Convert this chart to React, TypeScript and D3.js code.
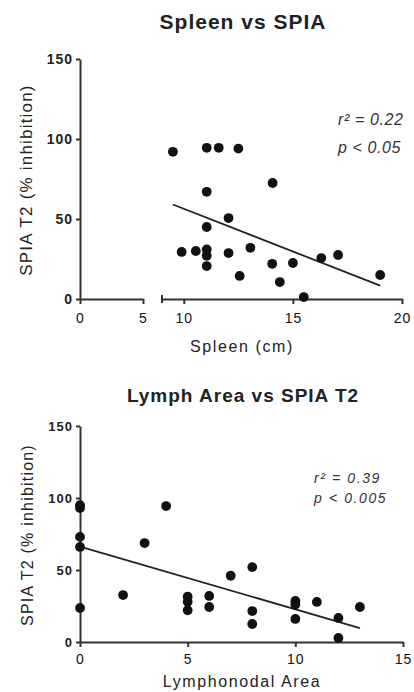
import * as d3 from "d3";
import { useEffect, useRef } from "react";

// Spleen vs SPIA (top panel)
const spleenCm = [
	9.5, 11.05, 11.6, 12.5, 14.07, 11.05, 12.05, 11.05, 9.9, 10.55, 11.05, 11.05,
	11.05, 12.05, 13.05, 12.56, 14.05, 15.0, 14.4, 15.5, 16.3, 17.07, 19.0,
];
const spleenSpia = [
	92, 94.5, 94.5, 94, 72.5, 67, 50.6, 45, 29.4, 30, 31, 27, 20.6, 28.7, 32, 14.4,
	22, 22.5, 10.6, 1.2, 25.6, 27.5, 15,
];
const spleenStats = ["r² = 0.22", "p < 0.05"];

// Lymph area vs SPIA T2 (bottom panel)
const lymphArea = [
	0, 0, 0, 0, 0, 4, 3, 7, 8, 2, 5, 5, 5, 6, 6, 8, 8, 10, 10, 10, 11, 12, 12, 13,
];
const lymphSpia = [
	95, 93, 73, 66, 23.6, 94.4, 68.7, 46, 52, 32.6, 31.5, 28, 22, 32, 24.3, 21.5,
	12.5, 28.5, 26, 16, 27.8, 16.7, 2.8, 24.3,
];
const lymphStats = ["r² = 0.39", "p < 0.005"];

const yTicks = [0, 50, 100, 150];

function fit(xs: number[], ys: number[]) {
	const mx = d3.mean(xs) ?? 0;
	const my = d3.mean(ys) ?? 0;
	let sxy = 0;
	let sxx = 0;
	xs.forEach((x, i) => {
		sxy += (x - mx) * (ys[i] - my);
		sxx += (x - mx) * (x - mx);
	});
	const slope = sxy / sxx;
	return { slope, intercept: my - slope * mx };
}

const FONT = "'Liberation Sans', Arial, sans-serif";

interface PanelOpts {
	top: number;
	bottom: number;
	title: string;
	titleY: number;
	titleSize: number;
	xLabel: string;
	xLabelY: number;
	yLabelX: number;
	yLabelSize: number;
	tickSize: number;
	xPad: number;
	xs: number[];
	ys: number[];
	stats: string[];
	statsX: number;
	statsY: number;
	statsGap: number;
	statsSize: number;
	statsSpacing: number;
	xSegments: { domain: [number, number]; range: [number, number]; ticks: number[]; cap?: boolean }[];
}

export default function App() {
	const ref = useRef<SVGSVGElement | null>(null);

	useEffect(() => {
		if (!ref.current) return;
		const svg = d3.select(ref.current);
		svg.selectAll("*").remove();

		const styleAxis = (g: d3.Selection<SVGGElement, unknown, null, undefined>, size: number) => {
			g.selectAll("path,line").attr("stroke", "#333").attr("stroke-width", 2);
			g.selectAll("text")
				.attr("font-family", FONT)
				.attr("font-size", size)
				.attr("font-weight", "bold")
				.attr("letter-spacing", 1)
				.attr("fill", "#222");
		};

		const drawPanel = (o: PanelOpts) => {
			const y = d3.scaleLinear().domain([0, 150]).range([o.bottom, o.top]);
			const root = svg.append("g");

			root
				.append("text")
				.attr("x", 243)
				.attr("y", o.titleY)
				.attr("text-anchor", "middle")
				.attr("font-family", FONT)
				.attr("font-weight", "bold")
				.attr("font-size", o.titleSize)
				.attr("letter-spacing", 1)
				.attr("fill", "#222")
				.text(o.title);

			// y axis
			const yg = root
				.append("g")
				.attr("transform", `translate(80,0)`)
				.call(d3.axisLeft(y).tickValues(yTicks).tickSize(4).tickSizeOuter(0).tickPadding(3));
			styleAxis(yg, o.tickSize);

			root
				.append("text")
				.attr("transform", `translate(${o.yLabelX},${(o.top + o.bottom) / 2 + 1}) rotate(-90)`)
				.attr("text-anchor", "middle")
				.attr("font-family", FONT)
				.attr("font-size", o.yLabelSize)
				.attr("letter-spacing", 1.2)
				.attr("fill", "#222")
				.text("SPIA T2 (% inhibition)");

			// x axis (possibly broken into segments)
			const segs = o.xSegments.map((s) => ({
				...s,
				scale: d3.scaleLinear().domain(s.domain).range(s.range),
			}));
			segs.forEach((s) => {
				const xg = root
					.append("g")
					.attr("transform", `translate(0,${o.bottom})`)
					.call(
						d3
							.axisBottom(s.scale)
							.tickValues(s.ticks)
							.tickFormat(d3.format("d"))
							.tickSize(5)
							.tickSizeOuter(0)
							.tickPadding(o.xPad),
					);
				styleAxis(xg, 14);
				xg.selectAll("text").attr("font-weight", "normal").attr("fill", "#111");
				if (s.cap) {
					xg.append("line")
						.attr("x1", s.range[0])
						.attr("x2", s.range[0])
						.attr("y1", -4)
						.attr("y2", 4)
						.attr("stroke", "#333")
						.attr("stroke-width", 2);
				}
			});
			const xAt = (v: number) => {
				const s = segs.find((d) => v >= d.domain[0] && v <= d.domain[1]) ?? segs[segs.length - 1];
				return s.scale(v);
			};

			root
				.append("text")
				.attr("x", 242)
				.attr("y", o.xLabelY)
				.attr("text-anchor", "middle")
				.attr("font-family", FONT)
				.attr("font-size", 16)
				.attr("letter-spacing", 1.6)
				.attr("fill", "#222")
				.text(o.xLabel);

			// regression line
			const { slope, intercept } = fit(o.xs, o.ys);
			const [x0, x1] = d3.extent(o.xs) as [number, number];
			root
				.append("line")
				.attr("x1", xAt(x0))
				.attr("y1", y(intercept + slope * x0))
				.attr("x2", xAt(x1))
				.attr("y2", y(intercept + slope * x1))
				.attr("stroke", "#222")
				.attr("stroke-width", 1.8);

			root
				.append("g")
				.selectAll("circle")
				.data(o.xs)
				.join("circle")
				.attr("cx", (d) => xAt(d))
				.attr("cy", (_, i) => y(o.ys[i]))
				.attr("r", 4.9)
				.attr("fill", "#111");

			root
				.append("g")
				.selectAll("text")
				.data(o.stats)
				.join("text")
				.attr("x", o.statsX)
				.attr("y", (_, i) => o.statsY + i * o.statsGap)
				.attr("font-family", FONT)
				.attr("font-style", "italic")
				.attr("font-size", o.statsSize)
				.attr("letter-spacing", o.statsSpacing)
				.attr("fill", "#333")
				.text((d) => d);
		};

		drawPanel({
			top: 59,
			bottom: 299,
			title: "Spleen vs SPIA",
			titleY: 29,
			titleSize: 21,
			xLabel: "Spleen (cm)",
			xLabelY: 352,
			yLabelX: 32,
			yLabelSize: 17,
			tickSize: 14,
			xPad: 9,
			xs: spleenCm,
			ys: spleenSpia,
			stats: spleenStats,
			statsX: 338,
			statsY: 125,
			statsGap: 28,
			statsSize: 16,
			statsSpacing: 0.6,
			xSegments: [
				{ domain: [0, 5], range: [80, 143], ticks: [0, 5] },
				{ domain: [9, 20], range: [162, 402], ticks: [10, 15, 20], cap: true },
			],
		});

		drawPanel({
			top: 426,
			bottom: 642,
			title: "Lymph Area vs SPIA T2",
			titleY: 402,
			titleSize: 19,
			xLabel: "Lymphonodal Area",
			xLabelY: 687,
			yLabelX: 33,
			yLabelSize: 16,
			tickSize: 13,
			xPad: 7,
			xs: lymphArea,
			ys: lymphSpia,
			stats: lymphStats,
			statsX: 314,
			statsY: 483,
			statsGap: 20,
			statsSize: 14,
			statsSpacing: 1.6,
			xSegments: [{ domain: [0, 15], range: [80, 403], ticks: [0, 5, 10, 15] }],
		});
	}, []);

	return (
		<svg
			ref={ref}
			width={414}
			height={692}
			style={{ position: "absolute", left: 0, top: 0, background: "#fff" }}
		></svg>
	);
}
